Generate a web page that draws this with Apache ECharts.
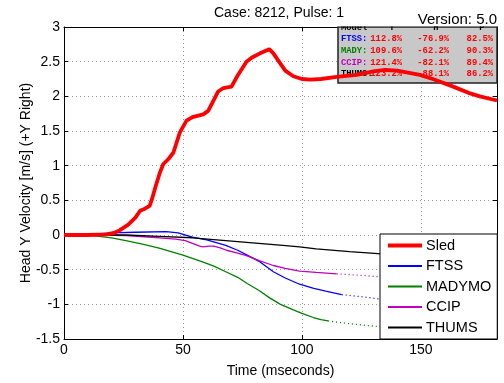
<!DOCTYPE html>
<html lang="en">
<head>
    <meta charset="UTF-8">
    <title>Case 8212 Head Y Velocity</title>
    <script src="https://cdn.jsdelivr.net/npm/echarts@6/dist/echarts.min.js"></script>
    <style>
        html, body { margin: 0; padding: 0; background: #fff; }
        #main { width: 504px; height: 383px; }
    </style>
</head>
<body>
    <div id="main"></div>
    <script>
        // x ticks / y ticks
        var xTicks = [0, 50, 100, 150];
        var yTicks = [-1.5, -1, -0.5, 0, 0.5, 1, 1.5, 2, 2.5, 3];

        // Sled
        var sledTime = [0, 10, 18, 21, 23.5, 27, 30, 32, 34, 36, 37, 38.5, 40.3, 41.7, 44, 46, 48.7, 51.5, 54, 58.5, 60.6, 63, 64.8, 67, 70.4, 73, 76.7, 79, 82.4, 86.3, 88, 90.8, 93, 96.4, 100, 103.4, 108, 114.6, 123, 130, 135, 140, 149.6, 155, 163.6, 170, 174.8, 182];
        var sledVel = [0, 0, 0.01, 0.03, 0.07, 0.15, 0.25, 0.35, 0.38, 0.42, 0.52, 0.7, 0.9, 1.02, 1.1, 1.19, 1.48, 1.65, 1.7, 1.74, 1.79, 1.95, 2.07, 2.12, 2.14, 2.3, 2.5, 2.56, 2.62, 2.68, 2.62, 2.48, 2.37, 2.29, 2.25, 2.24, 2.25, 2.28, 2.31, 2.36, 2.38, 2.37, 2.31, 2.25, 2.14, 2.05, 2.0, 1.94];

        // FTSS
        var ftssTime = [0, 10, 20, 30, 43, 48, 54, 60, 68, 73, 77, 82, 88, 93, 99, 105, 110, 116.7];
        var ftssVel = [0, 0.01, 0.03, 0.04, 0.05, 0.03, -0.03, -0.07, -0.15, -0.22, -0.29, -0.38, -0.53, -0.62, -0.71, -0.77, -0.81, -0.86];
        var ftssExtTime = [116.7, 125, 132, 150, 182];
        var ftssExtVel = [-0.86, -0.89, -0.92, -0.96, -1.0];

        // MADYMO
        var madyTime = [0, 6, 12, 20, 26, 33, 40, 45, 50, 58.5, 63, 68, 73, 77, 82, 86.6, 91, 96.4, 100, 104.8, 108, 111];
        var madyVel = [0, 0, -0.01, -0.04, -0.08, -0.13, -0.19, -0.24, -0.29, -0.39, -0.45, -0.53, -0.61, -0.7, -0.8, -0.91, -1.0, -1.08, -1.13, -1.19, -1.22, -1.24];
        var madyExtTime = [111, 120, 132, 150, 165, 182];
        var madyExtVel = [-1.24, -1.28, -1.32, -1.38, -1.42, -1.46];

        // CCIP
        var ccipTime = [0, 15, 26, 40, 47, 51, 54, 57, 58.5, 61, 63, 66, 68.3, 73, 77, 82, 88, 93, 99, 106, 114.6];
        var ccipVel = [0, 0, -0.01, -0.04, -0.06, -0.08, -0.12, -0.16, -0.17, -0.16, -0.16, -0.19, -0.22, -0.26, -0.3, -0.37, -0.44, -0.48, -0.52, -0.54, -0.56];
        var ccipExtTime = [114.6, 124, 132, 150, 182];
        var ccipExtVel = [-0.56, -0.58, -0.6, -0.58, -0.48];

        // THUMS
        var thumsTime = [0, 26, 40, 54, 68, 78, 92, 99, 106, 120, 132, 150, 165, 182];
        var thumsVel = [0, 0, -0.02, -0.04, -0.08, -0.11, -0.15, -0.17, -0.2, -0.24, -0.27, -0.33, -0.37, -0.4];

        // table
        var tableModels = ['FTSS:', 'MADY:', 'CCIP:', 'THUMS:'];
        var tableColors = ['#0000ff', '#008000', '#bf00bf', '#000000'];
        var tableT = ['112.8%', '109.6%', '121.4%', '123.2%'];
        var tableH = ['-76.9%', '-62.2%', '-82.1%', '-88.1%'];
        var tableP = ['82.5%', '90.3%', '89.4%', '86.2%'];

        function zip(a, b) {
            var out = [];
            for (var i = 0; i < a.length; i++) out.push([a[i], b[i]]);
            return out;
        }

        var font = '"Liberation Sans", Arial, sans-serif';
        var mono = 'bold 8.8px "Liberation Mono", "Courier New", monospace';

        // table graphics
        var tbl = [];
        tbl.push({ type: 'rect', z: 1, shape: { x: 338, y: 27, width: 159, height: 56 },
            style: { fill: '#c8c8c8', stroke: '#222', lineWidth: 1.5 } });
        var hdr = [['Model', 341, 'left'], ['T', 392, 'center'], ['H', 436, 'center'], ['P', 482, 'center']];
        hdr.forEach(function (h) {
            tbl.push({ type: 'text', z: 1, style: { text: h[0], x: h[1], y: 27.5, font: mono, fill: '#000',
                textAlign: h[2], textVerticalAlign: 'middle' } });
        });
        var rowY = [39, 51, 62.5, 73.5];
        for (var i = 0; i < tableModels.length; i++) {
            tbl.push({ type: 'text', z: 1, style: { text: tableModels[i], x: 341, y: rowY[i], font: mono,
                fill: tableColors[i], textAlign: 'left', textVerticalAlign: 'middle' } });
            tbl.push({ type: 'text', z: 1, style: { text: tableT[i], x: 402, y: rowY[i], font: mono,
                fill: '#ff0000', textAlign: 'right', textVerticalAlign: 'middle' } });
            tbl.push({ type: 'text', z: 1, style: { text: tableH[i], x: 449, y: rowY[i], font: mono,
                fill: '#ff0000', textAlign: 'right', textVerticalAlign: 'middle' } });
            tbl.push({ type: 'text', z: 1, style: { text: tableP[i], x: 493, y: rowY[i], font: mono,
                fill: '#ff0000', textAlign: 'right', textVerticalAlign: 'middle' } });
        }
        // header row is cut off by the top of the axes
        tbl.push({ type: 'rect', z: 5, shape: { x: 337, y: 14, width: 162, height: 12.3 }, style: { fill: '#fff' } });
        tbl.push({ type: 'text', z: 6, style: { text: 'Version: 5.0', x: 497, y: 19.5, font: '15px ' + font,
            fill: '#000', textAlign: 'right', textVerticalAlign: 'middle' } });

        var chart = echarts.init(document.getElementById('main'));

        var thin = 1.3;
        function line(name, data, color, width, type) {
            return {
                name: name, type: 'line', data: data, symbol: 'none', animation: false,
                lineStyle: { color: color, width: width, type: type || 'solid' },
                itemStyle: { color: color }, z: name === 'Sled' ? 3 : 2
            };
        }

        var boxAxis = {
            axisLine: { show: true, onZero: false, lineStyle: { color: '#000', width: 1 } },
            axisTick: { show: true, inside: true, length: 4, lineStyle: { color: '#000' } },
            axisLabel: { show: false },
            splitLine: { show: false }
        };

        chart.setOption({
            animation: false,
            title: {
                text: 'Case: 8212, Pulse: 1', left: 279, top: 6, textAlign: 'center', padding: 0,
                textStyle: { fontSize: 14, fontWeight: 'normal', color: '#000', fontFamily: font }
            },
            grid: { left: 64, top: 27, right: 7, bottom: 42 },
            legend: {
                data: [
                    { name: 'Sled', lineStyle: { width: 4 } },
                    'FTSS', 'MADYMO', 'CCIP', 'THUMS'
                ],
                orient: 'vertical', left: 380, top: 234,
                backgroundColor: '#fff', borderColor: '#000', borderWidth: 1,
                padding: [4, 6, 4, 6], itemWidth: 34, itemHeight: 14, itemGap: 5.5,
                itemStyle: { opacity: 0 },
                textStyle: { fontSize: 14.5, color: '#000', fontFamily: font, padding: [0, 0, 0, -1] },
                selectedMode: false
            },
            graphic: { elements: tbl },
            xAxis: [{
                type: 'value', min: 0, max: 182, interval: 50,
                name: 'Time (mseconds)', nameLocation: 'middle', nameGap: 25, nameMoveOverlap: false,
                nameTextStyle: { fontSize: 14, color: '#000', fontFamily: font },
                axisLine: { show: true, onZero: false, lineStyle: { color: '#000', width: 1 } },
                axisTick: { show: true, inside: true, length: 4, lineStyle: { color: '#000' } },
                axisLabel: { fontSize: 14, color: '#000', fontFamily: font, margin: 4, showMaxLabel: false,
                    formatter: function (v) { return xTicks.indexOf(v) >= 0 ? String(v) : ''; } },
                splitLine: { show: true, lineStyle: { color: '#999', type: [1, 3], width: 1 } }
            }, Object.assign({ type: 'value', min: 0, max: 182, interval: 50, position: 'top' }, boxAxis)],
            yAxis: [{
                type: 'value', min: yTicks[0], max: yTicks[yTicks.length - 1], interval: 0.5,
                name: 'Head Y Velocity [m/s] (+Y Right)', nameLocation: 'middle', nameGap: 31, nameMoveOverlap: false,
                nameTextStyle: { fontSize: 14, color: '#000', fontFamily: font },
                axisLine: { show: true, onZero: false, lineStyle: { color: '#000', width: 1 } },
                axisTick: { show: true, inside: true, length: 4, lineStyle: { color: '#000' } },
                axisLabel: { fontSize: 14, color: '#000', fontFamily: font, margin: 4 },
                splitLine: { show: true, lineStyle: { color: '#999', type: [1, 3], width: 1 } }
            }, Object.assign({ type: 'value', min: -1.5, max: 3, interval: 0.5, position: 'right' }, boxAxis)],
            series: [
                line('FTSS ext', zip(ftssExtTime, ftssExtVel), '#0000ff', thin, [1, 3]),
                line('MADYMO ext', zip(madyExtTime, madyExtVel), '#008000', thin, [1, 3]),
                line('CCIP ext', zip(ccipExtTime, ccipExtVel), '#bf00bf', thin, [1, 3]),
                line('FTSS', zip(ftssTime, ftssVel), '#0000ff', thin),
                line('MADYMO', zip(madyTime, madyVel), '#008000', thin),
                line('CCIP', zip(ccipTime, ccipVel), '#bf00bf', thin),
                line('THUMS', zip(thumsTime, thumsVel), '#000000', thin),
                line('Sled', zip(sledTime, sledVel), '#ff0000', 3.8)
            ]
        });
    </script>
</body>
</html>
